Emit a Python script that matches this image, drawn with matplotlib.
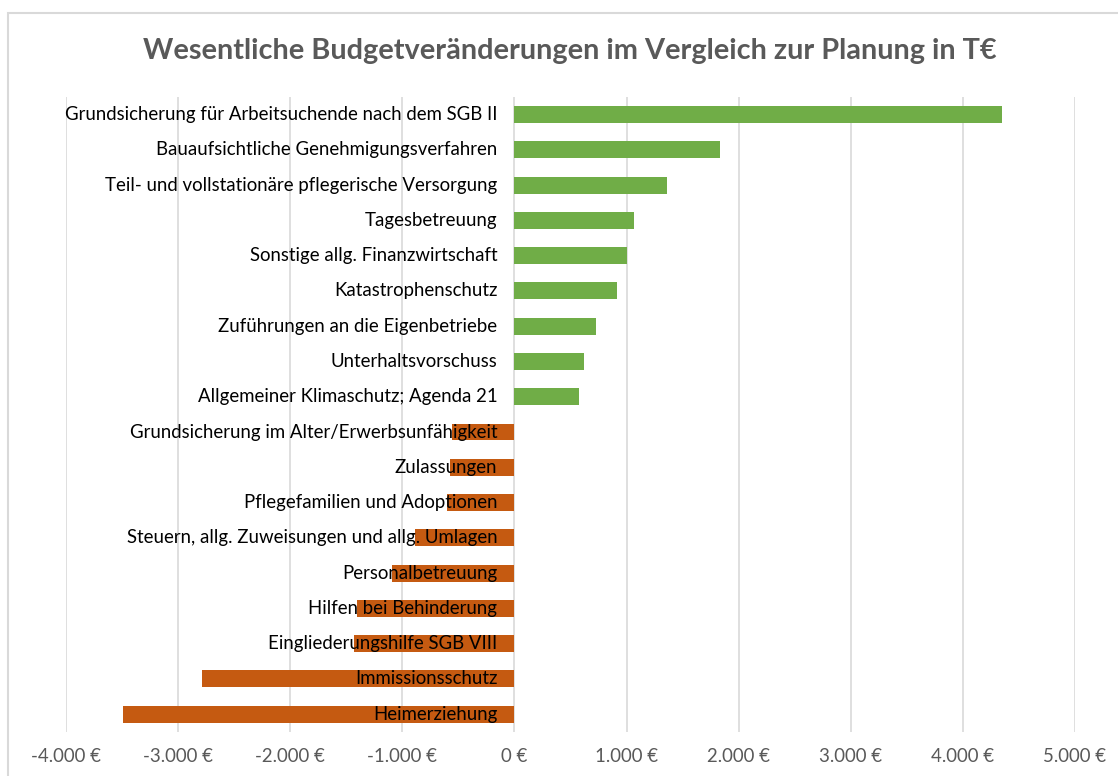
import matplotlib.pyplot as plt
import matplotlib.transforms as mtransforms
from matplotlib.patches import Rectangle

# Budget changes vs. plan, in T€ (top to bottom)
categories = [
    'Grundsicherung für Arbeitsuchende nach dem SGB II',
    'Bauaufsichtliche Genehmigungsverfahren',
    'Teil- und vollstationäre pflegerische Versorgung',
    'Tagesbetreuung',
    'Sonstige allg. Finanzwirtschaft',
    'Katastrophenschutz',
    'Zuführungen an die Eigenbetriebe',
    'Unterhaltsvorschuss',
    'Allgemeiner Klimaschutz; Agenda 21',
    'Grundsicherung im Alter/Erwerbsunfähigkeit',
    'Zulassungen',
    'Pflegefamilien und Adoptionen',
    'Steuern, allg. Zuweisungen und allg. Umlagen',
    'Personalbetreuung',
    'Hilfen bei Behinderung',
    'Eingliederungshilfe SGB VIII',
    'Immissionsschutz',
    'Heimerziehung',
]
values = [4350, 1835, 1365, 1065, 1008, 917, 731, 622, 572,
          -553, -576, -600, -889, -1093, -1406, -1428, -2785, -3492]
xticks = [-4000, -3000, -2000, -1000, 0, 1000, 2000, 3000, 4000, 5000]

green = '#70AD47'
orange = '#C55A11'
grey = '#595959'

plt.rcParams['font.family'] = ['Lato', 'DejaVu Sans']

fig = plt.figure(figsize=(11.18, 7.76), dpi=100)
ax = fig.add_axes([0.059, 0.057, 0.9025, 0.818])

# chart frame
fig.patches.append(Rectangle((8 / 1118, -0.1), 1.2, 1 - 13 / 776 + 0.1,
                             transform=fig.transFigure, fill=False,
                             edgecolor='#D9D9D9', linewidth=1.5))

ypos = list(range(len(categories)))
colors = [green if v >= 0 else orange for v in values]
ax.barh(ypos, values, height=0.48, color=colors, zorder=2)

label_tf = mtransforms.offset_copy(ax.transData, fig=fig, x=-17, y=0, units='dots')
for y, name in zip(ypos, categories):
    ax.text(0, y, name, transform=label_tf, ha='right', va='center',
            fontsize=13.4, color='black', zorder=3)

ax.set_xlim(-4000, 5000)
ax.set_ylim(len(categories) - 0.5, -0.5)
ax.set_xticks(xticks)
ax.set_xticklabels([f'{v:,.0f} €'.replace(',', '.') for v in xticks])
ax.set_yticks([])
ax.tick_params(axis='x', length=0, pad=12, labelsize=13.4, labelcolor=grey)
ax.grid(axis='x', color='#D9D9D9', linewidth=1.2, zorder=0)
for s in ax.spines.values():
    s.set_visible(False)

fig.text(0.51, 0.934, 'Wesentliche Budgetveränderungen im Vergleich zur Planung in T€',
         ha='center', va='center', fontsize=20.8, fontweight='bold', color=grey)

fig.savefig('out.png', dpi=100)
